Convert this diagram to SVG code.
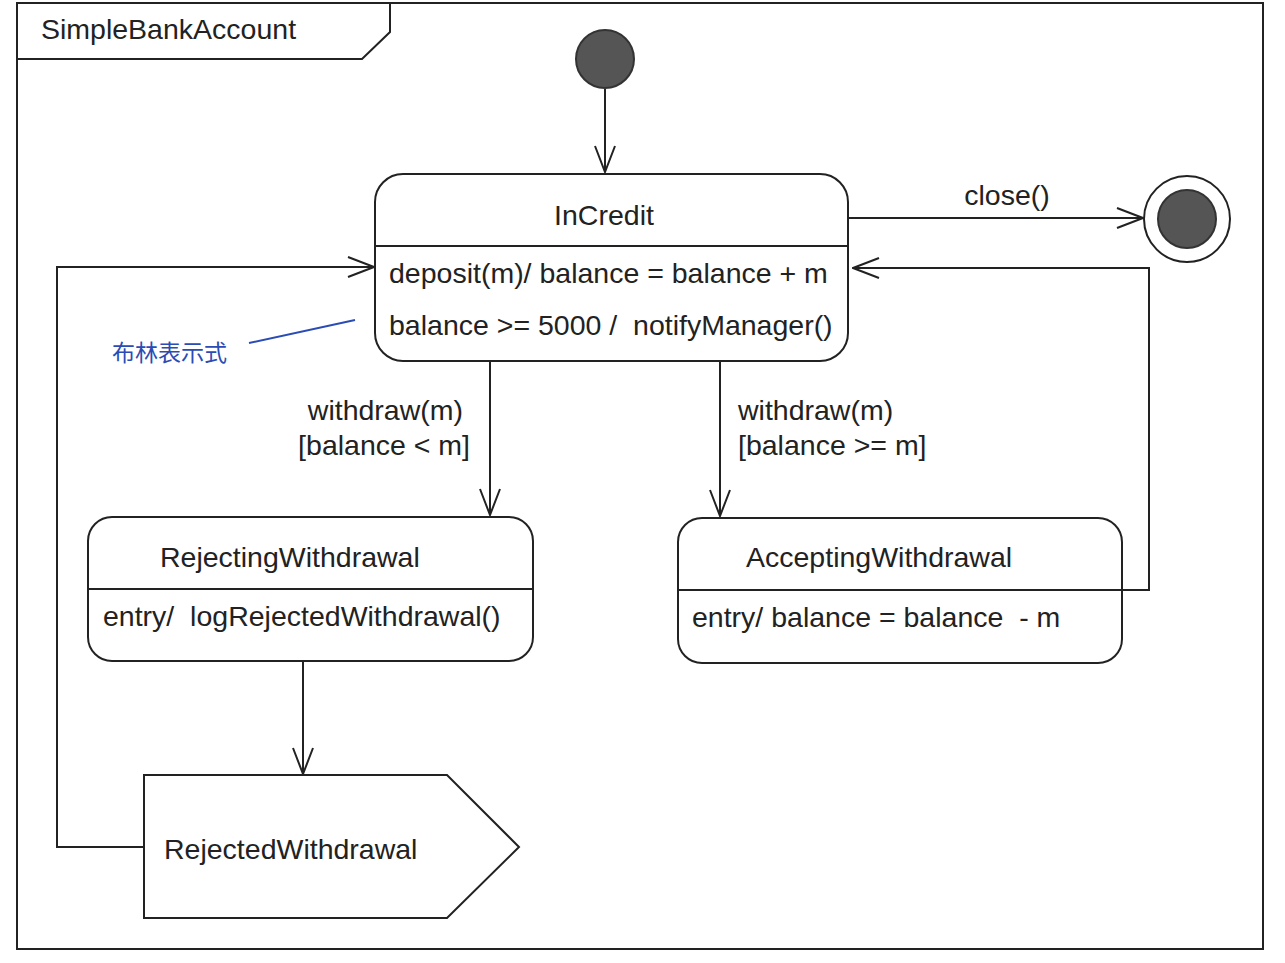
<svg xmlns="http://www.w3.org/2000/svg" width="1285" height="963" viewBox="0 0 1285 963">
<style>
  .ln { fill: none; stroke: #222; stroke-width: 2; }
  .box { fill: #fff; stroke: #222; stroke-width: 2; }
  .t { font-family: "Liberation Sans", Arial, sans-serif; font-size: 28.5px; fill: #222; }
  .note { font-family: "Liberation Sans", "Noto Sans CJK TC", sans-serif; font-size: 23px; fill: #2a4cb4; }
  .dot { fill: #555; stroke: #333; stroke-width: 2; }
</style>
<defs>
  <marker id="open" viewBox="0 0 28 22" refX="27" refY="11" markerWidth="28" markerHeight="22" markerUnits="userSpaceOnUse" orient="auto">
    <path d="M1,1 L27,11 L1,21" fill="none" stroke="#222" stroke-width="2"/>
  </marker>
</defs>
<rect width="1285" height="963" fill="#fff"/>

<g id="frame">
  <rect x="17" y="3" width="1246" height="946" class="ln"/>
  <path d="M17,59 L362,59 L390,32 L390,3" class="ln"/>
  <text x="41" y="39" class="t">SimpleBankAccount</text>
</g>

<g id="connectors">
  <line x1="605" y1="89" x2="605" y2="172" class="ln" marker-end="url(#open)"/>
  <line x1="848" y1="218" x2="1143" y2="218" class="ln" marker-end="url(#open)"/>
  <text x="1007" y="205" class="t" text-anchor="middle">close()</text>
  <line x1="490" y1="361" x2="490" y2="515" class="ln" marker-end="url(#open)"/>
  <text x="463" y="420" class="t" text-anchor="end">withdraw(m)</text>
  <text x="470" y="455" class="t" text-anchor="end">[balance &lt; m]</text>
  <line x1="720" y1="361" x2="720" y2="516" class="ln" marker-end="url(#open)"/>
  <text x="738" y="420" class="t">withdraw(m)</text>
  <text x="738" y="455" class="t">[balance &gt;= m]</text>
  <path d="M1122,590 L1149,590 L1149,268 L853,268" class="ln" marker-end="url(#open)"/>
  <line x1="303" y1="661" x2="303" y2="774" class="ln" marker-end="url(#open)"/>
  <path d="M144,847 L57,847 L57,267 L374,267" class="ln" marker-end="url(#open)"/>
</g>

<g id="initial">
  <circle cx="605" cy="59" r="29" class="dot"/>
</g>

<g id="final">
  <circle cx="1187" cy="219" r="43" fill="#fff" stroke="#222" stroke-width="2"/>
  <circle cx="1187" cy="219" r="29" class="dot"/>
</g>

<g id="InCredit">
  <rect x="375" y="174" width="473" height="187" rx="28" class="box"/>
  <line x1="375" y1="246" x2="848" y2="246" class="ln"/>
  <text x="604" y="225" class="t" text-anchor="middle">InCredit</text>
  <text x="389" y="283" class="t">deposit(m)/ balance = balance + m</text>
  <text x="389" y="335" class="t" xml:space="preserve">balance &gt;= 5000 /  notifyManager()</text>
</g>

<g id="note">
  <line x1="249" y1="343" x2="355" y2="320" stroke="#2a4cb4" stroke-width="2"/>
  <text x="112" y="361" class="note">布林表示式</text>
</g>

<g id="RejectingWithdrawal">
  <rect x="88" y="517" width="445" height="144" rx="24" class="box"/>
  <line x1="88" y1="589" x2="533" y2="589" class="ln"/>
  <text x="160" y="567" class="t">RejectingWithdrawal</text>
  <text x="103" y="626" class="t" xml:space="preserve">entry/  logRejectedWithdrawal()</text>
</g>

<g id="AcceptingWithdrawal">
  <rect x="678" y="518" width="444" height="145" rx="24" class="box"/>
  <line x1="678" y1="590" x2="1122" y2="590" class="ln"/>
  <text x="746" y="567" class="t">AcceptingWithdrawal</text>
  <text x="692" y="627" class="t" xml:space="preserve">entry/ balance = balance  - m</text>
</g>

<g id="RejectedWithdrawal">
  <path d="M144,775 L447,775 L519,847 L447,918 L144,918 Z" class="box"/>
  <text x="164" y="859" class="t">RejectedWithdrawal</text>
</g>
</svg>
